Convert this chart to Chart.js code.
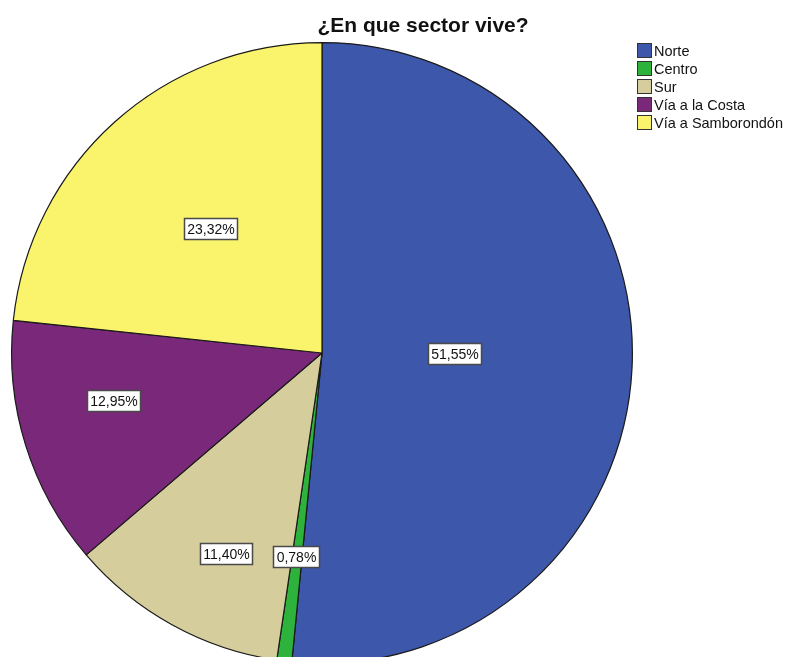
<!DOCTYPE html>
<html>
<head>
<meta charset="utf-8">
<script src="https://cdn.jsdelivr.net/npm/chart.js@4.4.1/dist/chart.umd.min.js"></script>
<style>
  html, body { margin: 0; padding: 0; background: #fff; overflow: hidden; }
  #wrap { position: relative; width: 785px; height: 657px; overflow: hidden; }
  #box { position: absolute; left: 0; top: 0; width: 785px; height: 700px; }
</style>
</head>
<body>
<div id="wrap"><div id="box"><canvas id="c"></canvas></div></div>
<script>
const chartTitle = '¿En que sector vive?';
const sectors = ['Norte', 'Centro', 'Sur', 'Vía a la Costa', 'Vía a Samborondón'];
const percents = [51.55, 0.78, 11.40, 12.95, 23.32];
const sectorColors = ['#3D57AB', '#2DB23C', '#D5CE9C', '#7A2879', '#FAF46C'];
// label placement: distance along the radius (fraction) and turn from the bisector (degrees)
const labelDepth = [0.428, 0.661, 0.716, 0.69, 0.537];
const labelTurn = [-2.6, 0.3, -3.4, 4.5, 0.2];

const fmt = v => v.toFixed(2).replace('.', ',') + '%';

// Boxed percentage labels inside each slice
const sliceLabels = {
  id: 'sliceLabels',
  afterDatasetsDraw(chart) {
    const ctx = chart.ctx;
    const meta = chart.getDatasetMeta(0);
    ctx.save();
    ctx.font = '14px Arial, "Liberation Sans", sans-serif';
    ctx.textBaseline = 'middle';
    ctx.textAlign = 'center';
    meta.data.forEach((arc, i) => {
      const p = arc.getProps(['x', 'y', 'startAngle', 'endAngle', 'outerRadius'], true);
      const mid = (p.startAngle + p.endAngle) / 2 + labelTurn[i] * Math.PI / 180;
      const lx = p.x + Math.cos(mid) * p.outerRadius * labelDepth[i];
      const ly = p.y + Math.sin(mid) * p.outerRadius * labelDepth[i];
      const txt = fmt(percents[i]);
      const w = Math.round(ctx.measureText(txt).width + 6);
      const h = 21;
      const bx = Math.round(lx - w / 2) + 0.5, by = Math.round(ly - h / 2) + 0.5;
      ctx.fillStyle = '#ffffff';
      ctx.fillRect(bx, by, w, h);
      ctx.strokeStyle = '#4a4a4a';
      ctx.lineWidth = 1.5;
      ctx.strokeRect(bx, by, w, h);
      ctx.fillStyle = '#111';
      ctx.fillText(txt, bx + w / 2, by + h / 2 + 1);
    });
    ctx.restore();
  }
};

// Title and square-swatch legend
const decorations = {
  id: 'decorations',
  afterDraw(chart) {
    const ctx = chart.ctx;
    ctx.save();
    ctx.font = 'bold 21px Arial, "Liberation Sans", sans-serif';
    ctx.fillStyle = '#111';
    ctx.textAlign = 'center';
    ctx.textBaseline = 'alphabetic';
    ctx.fillText(chartTitle, 423, 32);

    ctx.font = '14.5px Arial, "Liberation Sans", sans-serif';
    ctx.textAlign = 'left';
    ctx.textBaseline = 'middle';
    sectors.forEach((name, i) => {
      const y = 50.5 + i * 18;
      ctx.fillStyle = sectorColors[i];
      ctx.fillRect(637.5, y - 7, 14, 14);
      ctx.strokeStyle = '#333';
      ctx.lineWidth = 1;
      ctx.strokeRect(637.5, y - 7, 14, 14);
      ctx.fillStyle = '#111';
      ctx.fillText(name, 654, y + 1);
    });
    ctx.restore();
  }
};

new Chart(document.getElementById('c'), {
  type: 'pie',
  data: {
    labels: sectors,
    datasets: [{
      data: percents,
      backgroundColor: sectorColors,
      borderColor: '#1a1a1a',
      borderWidth: 1.2
    }]
  },
  options: {
    responsive: true,
    maintainAspectRatio: false,
    animation: false,
    layout: { padding: { left: 11, right: 152, top: 42, bottom: 36 } },
    plugins: {
      legend: { display: false },
      tooltip: { enabled: false },
      title: { display: false }
    }
  },
  plugins: [sliceLabels, decorations]
});
</script>
</body>
</html>
